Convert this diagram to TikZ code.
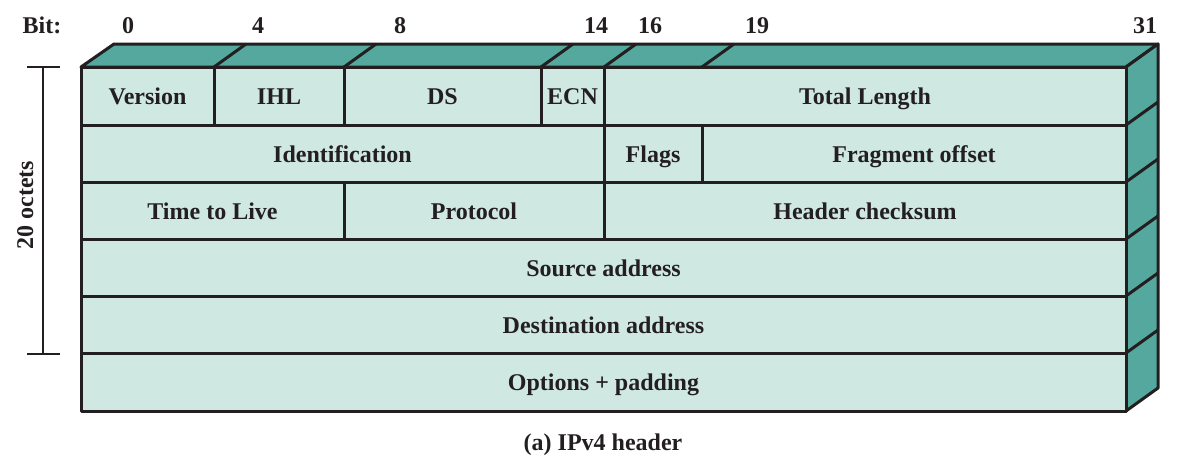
\documentclass[tikz,border=0pt]{standalone}
\usepackage{fontspec}
\setmainfont{Liberation Serif}
\usetikzlibrary{calc}
\definecolor{facelight}{HTML}{D0E8E2}
\definecolor{facedark}{HTML}{55A89E}
\definecolor{inkdark}{HTML}{231F20}

\begin{document}
\begin{tikzpicture}[x=0.5pt,y=-0.5pt,line join=round,
    cell/.style={draw=inkdark,fill=facelight,line width=1.5pt},
    side/.style={draw=inkdark,fill=facedark,line width=1.5pt},
    edge/.style={draw=inkdark,line width=1.5pt},
    lbl/.style={font=\bfseries\fontsize{12}{14}\selectfont,text=inkdark,inner sep=0pt,anchor=base}]
   \useasboundingbox (0,0) rectangle (1178,466);
   % corners of the box
   \coordinate (ftl) at (81,67);
   \coordinate (ftr) at (1126,67);
   \coordinate (fbr) at (1126,411);
   \coordinate (btl) at (114,44);
   \coordinate (btr) at (1158,44);
   \coordinate (bbr) at (1158,388);
   % top and right faces
   \draw[side] (ftl) -- (btl) -- (btr) -- (ftr) -- cycle;
   \draw[side] (ftr) -- (btr) -- (bbr) -- (fbr) -- cycle;
   \foreach \x in {214,344,541,604,702}
      \draw[edge] (\x,67) -- ++(32,-23);
   \foreach \y in {125,182,239,296,353}
      \draw[edge] (1126,\y) -- ++(32,-23);
   % header fields
   \foreach \a/\b/\t/\u/\nm/\txt in {
      81/214/67/125/version/Version,
      214/344/67/125/ihl/IHL,
      344/541/67/125/ds/DS,
      541/604/67/125/ecn/ECN,
      604/1126/67/125/totlen/Total Length,
      81/604/125/182/ident/Identification,
      604/702/125/182/flags/Flags,
      702/1126/125/182/fragoff/Fragment offset,
      81/344/182/239/ttl/Time to Live,
      344/604/182/239/proto/Protocol,
      604/1126/182/239/hcsum/Header checksum,
      81/1126/239/296/srcaddr/Source address,
      81/1126/296/353/dstaddr/Destination address,
      81/1126/353/411/options/Options + padding}
   {
      \draw[cell] (\a,\t) rectangle (\b,\u);
      \node[lbl] (\nm) at ({(\a+\b)/2},{(\t+\u)/2+8.5}) {\txt};
   }
   % bit numbers
   \node[lbl] (bit) at (42,33) {Bit:};
   \foreach \x/\n in {128/0,258/4,400/8,596/14,650/16,757/19,1145/31}
      \node[lbl] (bit\n) at (\x,33) {\n};
   % size bar
   \coordinate (bartop) at (43,67);
   \coordinate (barbot) at (43,354);
   \draw[inkdark,line width=1pt] (bartop) -- (barbot);
   \draw[inkdark,line width=1pt] (27,67) -- (60,67);
   \draw[inkdark,line width=1pt] (27,354) -- (60,354);
   \node[lbl,rotate=90] (octets) at (33,205) {20 octets};
   % caption
   \node[lbl] (caption) at (603,450) {(a) IPv4 header};
\end{tikzpicture}
\end{document}
